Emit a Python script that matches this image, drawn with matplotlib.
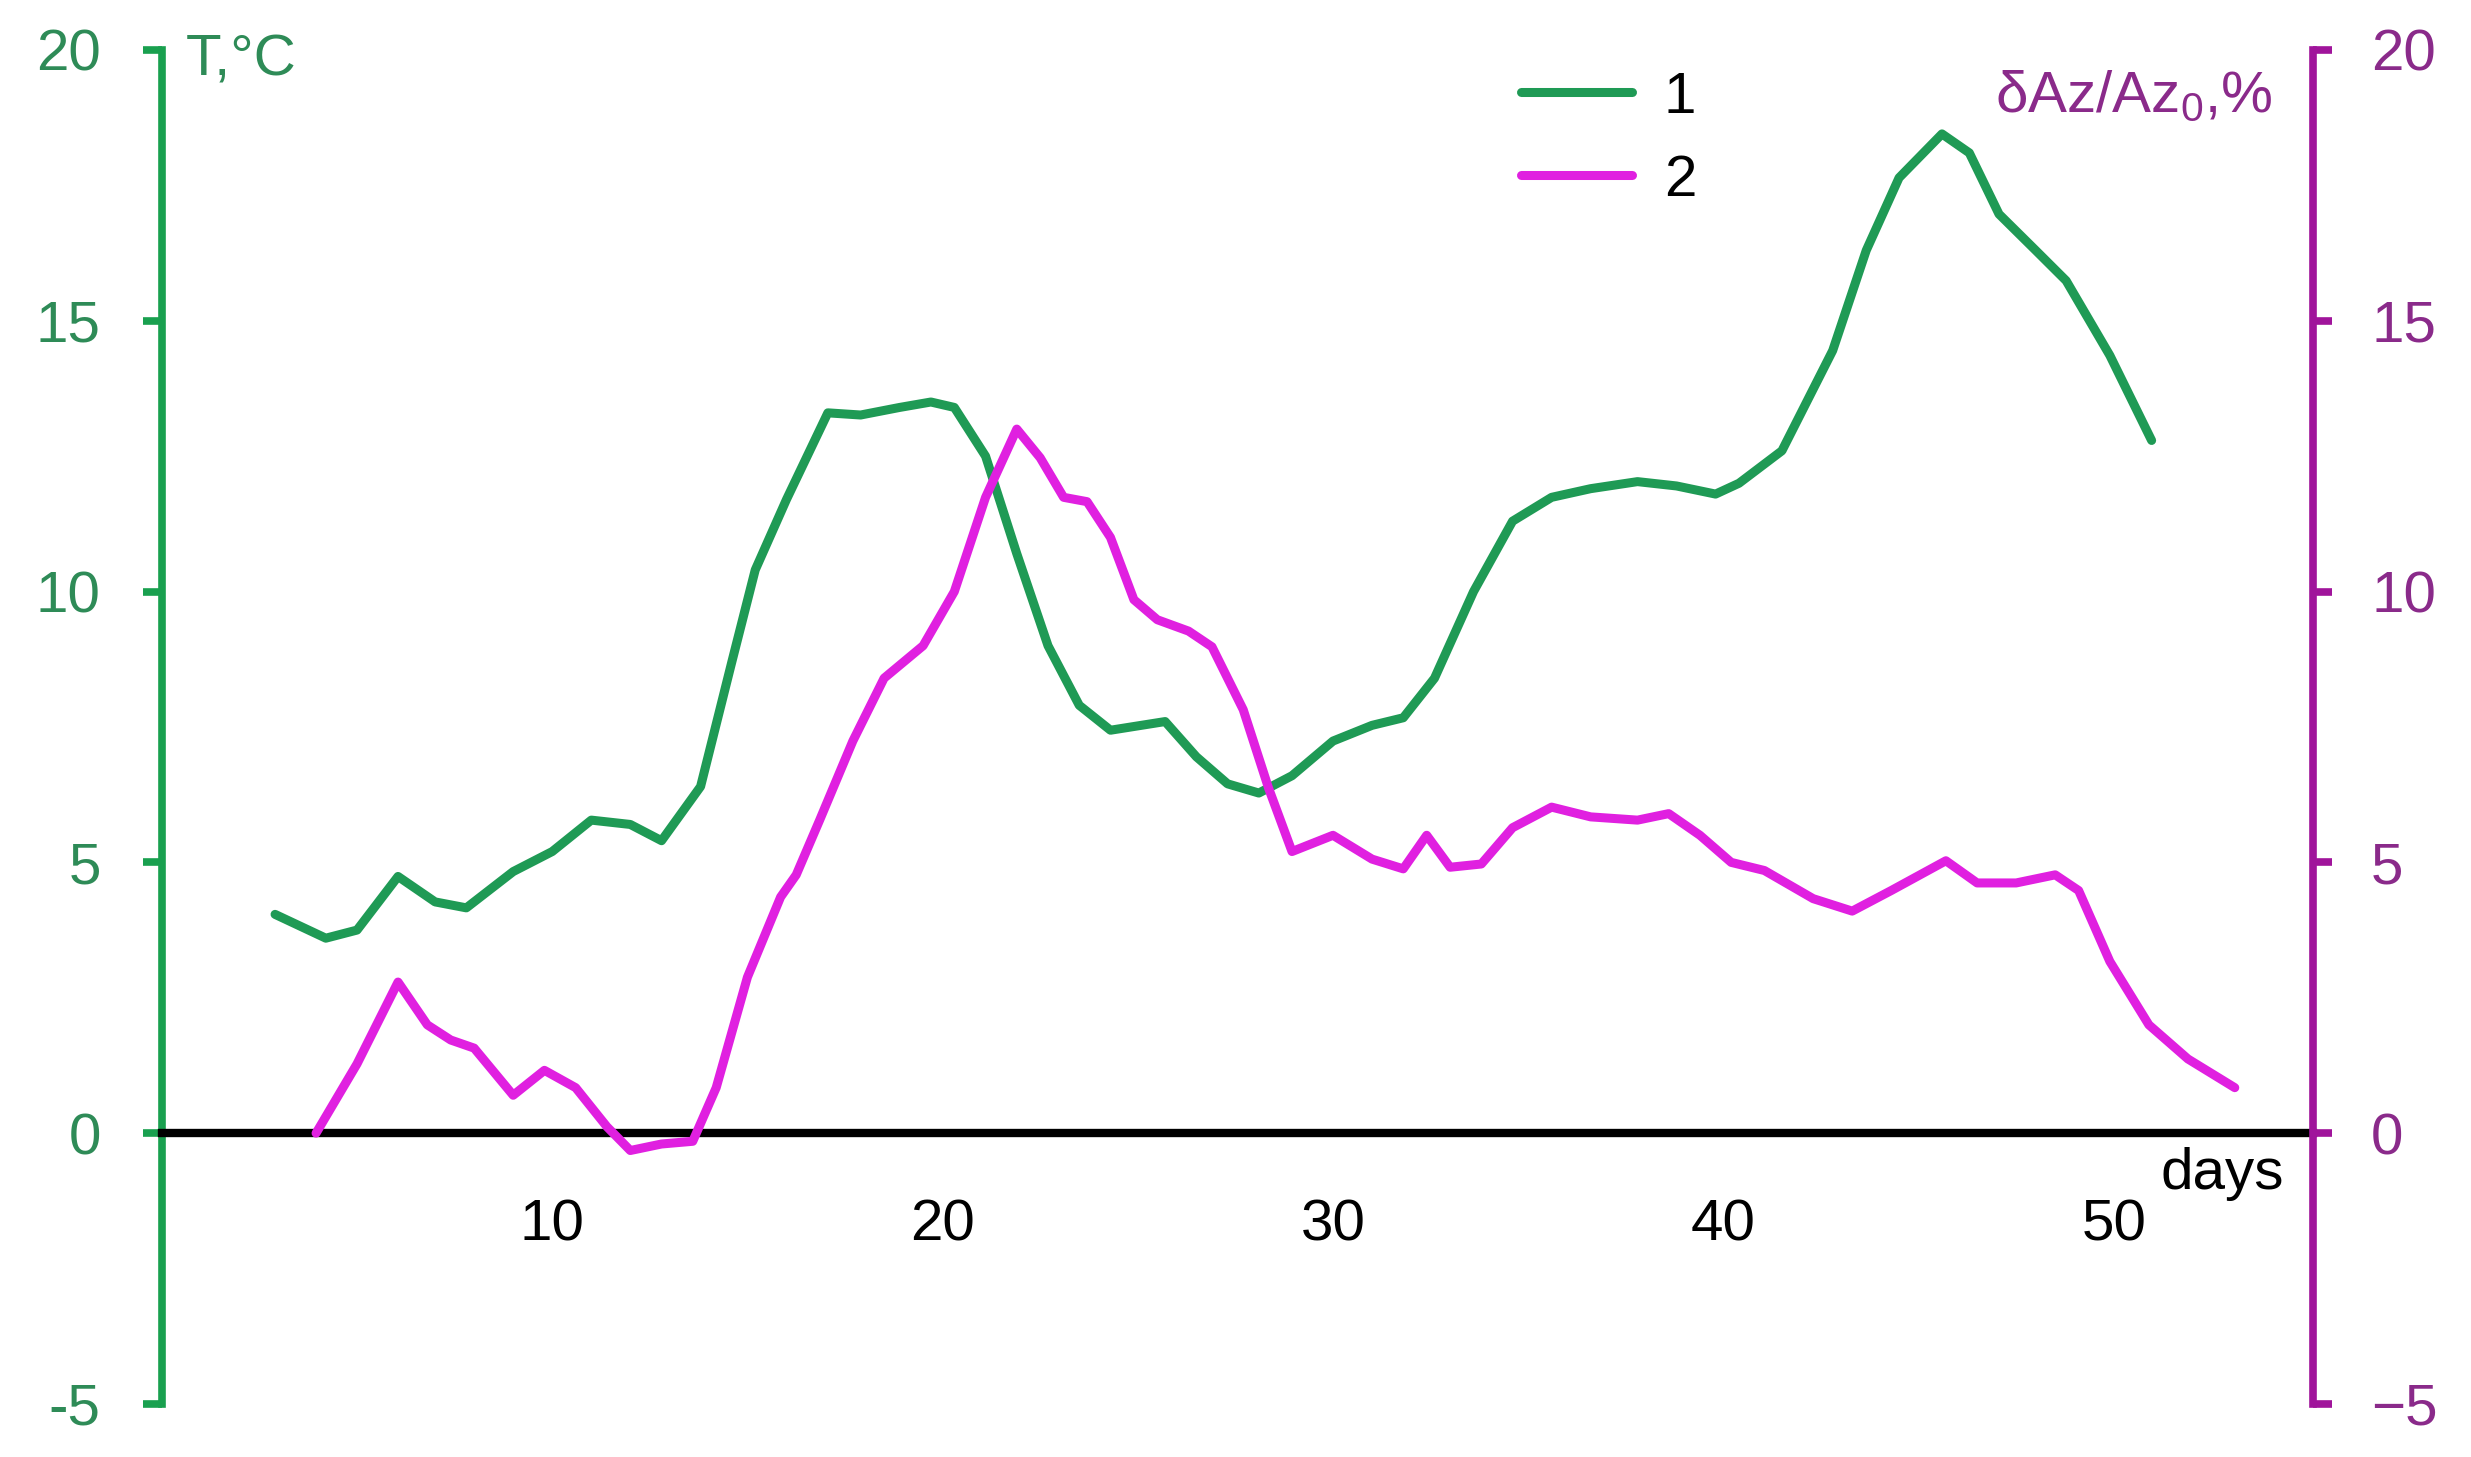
import numpy as np
import matplotlib.pyplot as plt

plt.rcParams['font.family'] = ['Liberation Sans', 'DejaVu Sans']
plt.rcParams['mathtext.fontset'] = 'custom'
plt.rcParams['mathtext.rm'] = 'Liberation Sans'
plt.rcParams['mathtext.it'] = 'Liberation Sans:italic'

# curve 1: temperature, T (degC), left axis
days_t = [2.9, 4.2, 5.0, 6.05, 7.0, 7.8, 9.0, 10.0, 11.0, 12.0, 12.8, 13.8, 14.6, 15.2,
          16.0, 17.06, 17.9, 18.9, 19.7, 20.3, 21.1, 21.9, 22.7, 23.5, 24.3, 25.7, 26.5,
          27.3, 28.1, 28.95, 30.0, 31.0, 31.8, 32.6, 33.6, 34.6, 35.6, 36.6, 37.8, 38.8,
          39.8, 40.4, 41.5, 42.8, 43.66, 44.5, 45.6, 46.3, 47.06, 48.0, 48.78, 49.9, 50.97]
temp = [4.04, 3.6, 3.75, 4.74, 4.27, 4.16, 4.83, 5.2, 5.78, 5.7, 5.4, 6.4, 8.7, 10.4,
        11.7, 13.3, 13.26, 13.4, 13.5, 13.4, 12.5, 10.7, 9.0, 7.9, 7.44, 7.6, 6.95,
        6.45, 6.28, 6.6, 7.24, 7.53, 7.67, 8.4, 10.0, 11.3, 11.74, 11.9, 12.03, 11.95,
        11.8, 12.0, 12.6, 14.45, 16.3, 17.64, 18.45, 18.1, 16.97, 16.3, 15.74, 14.36, 12.79]

# curve 2: dAz/Az0 (%), right axis
days_a = [3.95, 5.0, 6.05, 6.8, 7.4, 8.0, 9.0, 9.8, 10.6, 11.4, 12.0, 12.8, 13.6, 14.2,
          15.0, 15.85, 16.25, 16.85, 17.7, 18.5, 19.5, 20.3, 21.1, 21.9, 22.5, 23.1, 23.7,
          24.3, 24.9, 25.5, 26.3, 26.9, 27.7, 28.35, 28.95, 30.0, 31.0, 31.8, 32.4, 33.0,
          33.8, 34.6, 35.6, 36.6, 37.8, 38.6, 39.4, 40.2, 41.05, 42.3, 43.3, 44.3, 45.7,
          46.5, 47.5, 48.5, 49.1, 49.9, 50.9, 51.9, 53.1]
daz = [0.0, 1.28, 2.79, 2.0, 1.72, 1.57, 0.7, 1.16, 0.84, 0.12, -0.32, -0.2, -0.15, 0.84,
       2.88, 4.36, 4.77, 5.78, 7.24, 8.4, 9.0, 10.0, 11.74, 13.0, 12.47, 11.74, 11.66,
       11.0, 9.85, 9.48, 9.27, 8.98, 7.82, 6.37, 5.2, 5.5, 5.06, 4.88, 5.5, 4.91,
       4.97, 5.64, 6.02, 5.84, 5.78, 5.9, 5.5, 5.0, 4.85, 4.33, 4.1, 4.48, 5.03,
       4.62, 4.62, 4.77, 4.48, 3.17, 2.0, 1.37, 0.84]

x_ticks = [10, 20, 30, 40, 50]
y_ticks = [-5, 0, 5, 10, 15, 20]
left_labels = ['-5', '0', '5', '10', '15', '20']

green_line = '#1f9a55'
green_axis = '#19a04f'
green_text = '#2e8b57'
mag_line = '#e020e0'
mag_axis = '#a0149b'
mag_text = '#8a2a8a'

fig = plt.figure(figsize=(24.71, 14.57), dpi=100)
ax = fig.add_axes([0.0655, 0.0364, 0.8705, 0.9293])
ax2 = ax.twinx()

l1, = ax.plot(days_t, temp, color=green_line, lw=6.5, solid_capstyle='round',
              solid_joinstyle='round')
l2, = ax2.plot(days_a, daz, color=mag_line, lw=6.5, solid_capstyle='round',
               solid_joinstyle='round')

ax.set_xlim(0, 55.1)
ax.set_ylim(-5, 20)
ax2.set_ylim(-5, 20)

# spines
ax.spines['top'].set_visible(False)
ax.spines['right'].set_visible(False)
ax.spines['left'].set_color(green_axis)
ax.spines['left'].set_linewidth(5.5)
ax.spines['bottom'].set_position(('data', 0))
ax.spines['bottom'].set_color('black')
ax.spines['bottom'].set_linewidth(6)
for s in ['top', 'left', 'bottom']:
    ax2.spines[s].set_visible(False)
ax2.spines['right'].set_color(mag_axis)
ax2.spines['right'].set_linewidth(5.5)

# ticks
ax.set_yticks(y_ticks)
ax.set_yticklabels(left_labels)
ax.tick_params(axis='y', colors=green_axis, labelcolor=green_text, direction='out',
               length=14, width=5.5, pad=30, labelsize=42)
ax.set_xticks(x_ticks)
ax.tick_params(axis='x', length=0, pad=47, labelsize=42)
ax2.set_yticks(y_ticks)
ax2.tick_params(axis='y', colors=mag_axis, labelcolor=mag_text, direction='out',
                length=14, width=5.5, pad=28, labelsize=42)

ax.text(54.35, -0.75, 'days', ha='right', va='center', fontsize=42)

fig.text(0.0753, 0.9588, 'T,°C', ha='left', va='center', fontsize=42, color=green_text)
fig.text(0.9199, 0.9334, 'δAz/Az$_0$,%', ha='right', va='center', fontsize=42, color=mag_text)

fig.legend([l1, l2], ['1', '2'], loc='center left', bbox_to_anchor=(0.6155, 0.9045),
           frameon=False, fontsize=42, handlelength=1.9, handletextpad=0.55,
           labelspacing=0.5, borderpad=0, borderaxespad=0)

fig.savefig('out.png', dpi=100)
